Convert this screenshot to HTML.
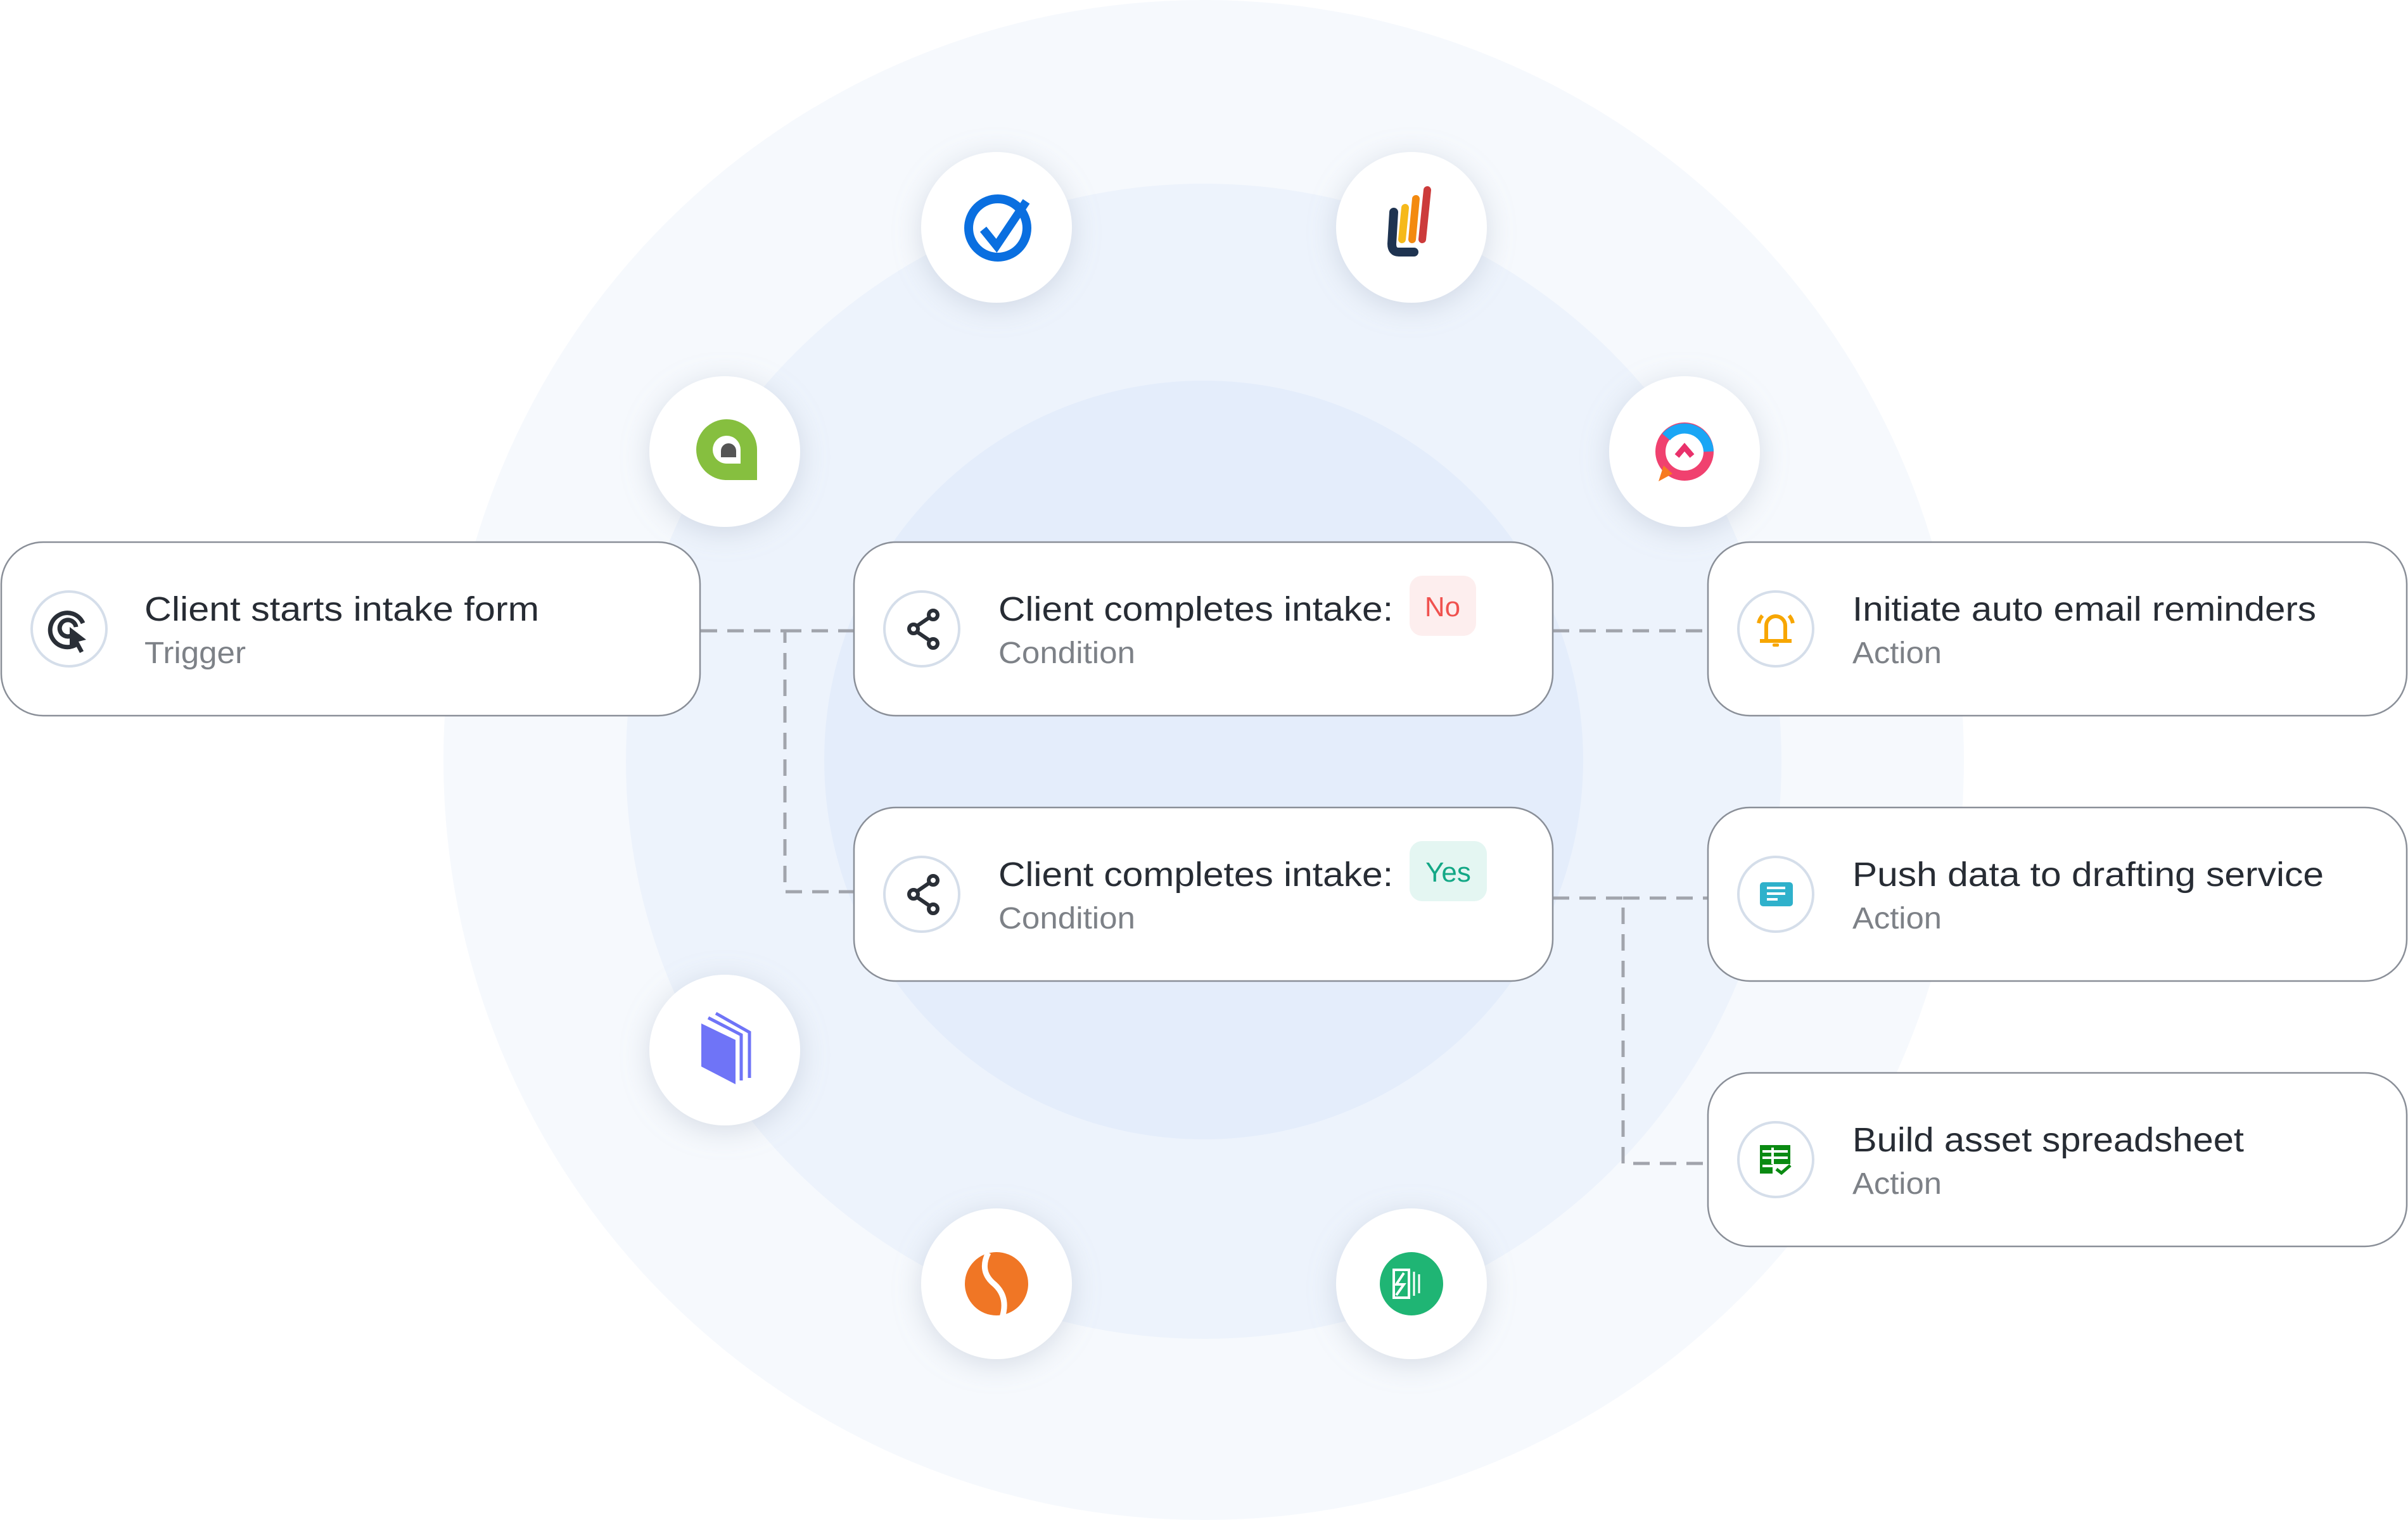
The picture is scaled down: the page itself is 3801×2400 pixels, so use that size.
<!DOCTYPE html>
<html><head><meta charset="utf-8"><style>
html,body{margin:0;padding:0;background:#fff;}
svg{display:block}
text{font-family:"Liberation Sans",sans-serif}
</style></head><body>
<svg width="3801" height="2400" viewBox="0 0 3801 2400" xmlns="http://www.w3.org/2000/svg">
<defs>
<filter id="sh" x="-50%" y="-50%" width="200%" height="200%"><feDropShadow dx="0" dy="8" stdDeviation="22" flood-color="#9aa6b8" flood-opacity="0.35"/></filter>
</defs>
<rect width="3801" height="2400" fill="#fff"/>
<circle cx="1900" cy="1200" r="1200" fill="#f6f9fd"/>
<circle cx="1900" cy="1202" r="912" fill="#edf3fc"/>
<circle cx="1900" cy="1200" r="599" fill="#e4edfb"/>

<g filter="url(#sh)" fill="#fff">
<circle cx="1573" cy="359" r="119"/><circle cx="2228" cy="359" r="119"/>
<circle cx="1144" cy="713" r="119"/><circle cx="2659" cy="713" r="119"/>
<circle cx="1144" cy="1658" r="119"/><circle cx="1573" cy="2027" r="119"/>
<circle cx="2228" cy="2027" r="119"/>
</g>
<circle cx="1575" cy="360" r="46" fill="none" stroke="#0a6fe0" stroke-width="14"/>
<path d="M1552 362 L1573 388 L1620 318" fill="none" stroke="#0a6fe0" stroke-width="13"/>
<path d="M2200 335 L2197 385 Q2197 398 2208 398 L2232 398" fill="none" stroke="#1e3350" stroke-width="14" stroke-linecap="round"/>
<line x1="2218" y1="328" x2="2213" y2="378" stroke="#f6b91a" stroke-width="12" stroke-linecap="round"/>
<line x1="2235" y1="314" x2="2229" y2="378" stroke="#f38a10" stroke-width="12" stroke-linecap="round"/>
<line x1="2253" y1="300" x2="2245" y2="378" stroke="#cc3b3b" stroke-width="12" stroke-linecap="round"/>
<path d="M1147 662 A48 48 0 1 0 1147 758 L1195 758 L1195 710 A48 48 0 0 0 1147 662Z" fill="#86bf3f"/>
<path d="M1147 688 A22 22 0 1 0 1147 732 L1169 732 L1169 710 A22 22 0 0 0 1147 688Z" fill="#fff"/>
<path d="M1150 700 A12 12 0 0 0 1138 712 L1138 722 L1162 722 L1162 712 A12 12 0 0 0 1150 700Z" fill="#555"/>
<circle cx="2659" cy="713" r="38" fill="none" stroke="#f0416f" stroke-width="16"/>
<path d="M2630 690 A38 38 0 0 1 2697 713" fill="none" stroke="#1aa6f5" stroke-width="16"/>
<path d="M2626 735 L2618 760 L2640 748Z" fill="#f77a20"/>
<path d="M2647 720 L2659 706 L2671 720" fill="none" stroke="#e9316b" stroke-width="9"/>
<path d="M1107 1616 L1161 1642 L1161 1712 L1107 1684Z" fill="#6f74f7"/>
<path d="M1118 1607 L1170 1634 L1170 1706" fill="none" stroke="#6f74f7" stroke-width="5"/>
<path d="M1130 1600 L1183 1630 L1183 1702" fill="none" stroke="#6f74f7" stroke-width="5"/>
<circle cx="1573" cy="2027" r="50" fill="#f07625"/>
<path d="M1560 1978 Q1545 2008 1570 2028 Q1592 2048 1582 2080" fill="none" stroke="#fff" stroke-width="9"/>
<circle cx="2228" cy="2027" r="50" fill="#1fb574"/>
<rect x="2200" y="2005" width="24" height="44" fill="none" stroke="#fff" stroke-width="4"/>
<path d="M2216 2010 L2204 2028 L2216 2028 L2204 2045" fill="none" stroke="#fff" stroke-width="4"/>
<line x1="2232" y1="2008" x2="2232" y2="2046" stroke="#fff" stroke-width="3"/>
<line x1="2240" y1="2012" x2="2240" y2="2042" stroke="#fff" stroke-width="3"/>

<g fill="none" stroke="#a1a4ac" stroke-width="5" stroke-dasharray="26 16">
<path d="M1106 996 L1239 996 L1239 1408 L1348 1408"/>
<path d="M1239 996 L1348 996"/>
<path d="M2451 996 L2696 996"/>
<path d="M2451 1418 L2562 1418 L2562 1837 L2696 1837"/>
<path d="M2562 1418 L2696 1418"/>
</g>

<g fill="#fff" stroke="#8a8f98" stroke-width="2.5">
<rect x="2" y="856" width="1103" height="274" rx="66"/>
<rect x="1348" y="856" width="1103" height="274" rx="66"/>
<rect x="1348" y="1275" width="1103" height="274" rx="66"/>
<rect x="2696" y="856" width="1103" height="274" rx="66"/>
<rect x="2696" y="1275" width="1103" height="274" rx="66"/>
<rect x="2696" y="1694" width="1103" height="274" rx="66"/>
</g>
<g fill="#fff" stroke="#d5deea" stroke-width="4">
<circle cx="109" cy="993" r="59"/>
<circle cx="1455" cy="993" r="59"/>
<circle cx="1455" cy="1412" r="59"/>
<circle cx="2803" cy="993" r="59"/>
<circle cx="2803" cy="1412" r="59"/>
<circle cx="2803" cy="1831" r="59"/>
</g>
<g fill="none" stroke="#2a2f37" stroke-width="7">
<path d="M124 1015 A27 27 0 1 1 131 984"/>
<path d="M112 1004 A13 13 0 1 1 120 990"/>
</g>
<path d="M110 990 L136 1010 L124 1013 L132 1028 L126 1031 L118 1016 L110 1024Z" fill="#2a2f37"/>
<g fill="none" stroke="#2a2f37" stroke-width="6">
<circle cx="1473" cy="971" r="7"/><circle cx="1442" cy="993" r="7"/><circle cx="1473" cy="1016" r="7"/>
<path d="M1448 988 L1467 975 M1448 998 L1467 1011"/>
<circle cx="1473" cy="1390" r="7"/><circle cx="1442" cy="1412" r="7"/><circle cx="1473" cy="1435" r="7"/>
<path d="M1448 1407 L1467 1394 M1448 1417 L1467 1430"/>
</g>
<g fill="none" stroke="#f7a600" stroke-width="6">
<path d="M2788 1012 L2788 988 A15 15 0 0 1 2818 988 L2818 1012"/>
<path d="M2778 1012 L2828 1012"/>
<path d="M2782 972 A25 25 0 0 0 2776 984 M2824 972 A25 25 0 0 1 2830 984"/>
</g>
<rect x="2798" y="1016" width="10" height="5" rx="2" fill="#f7a600"/>
<rect x="2778" y="1393" width="52" height="38" rx="5" fill="#2fb1cb"/>
<g stroke="#fff" stroke-width="4"><line x1="2789" y1="1402" x2="2818" y2="1402"/><line x1="2789" y1="1411" x2="2818" y2="1411"/><line x1="2789" y1="1420" x2="2806" y2="1420"/></g>
<g fill="#0a8a12"><rect x="2778" y="1808" width="48" height="30"/><rect x="2778" y="1838" width="20" height="15"/></g>
<g stroke="#fff" stroke-width="4"><line x1="2782" y1="1818" x2="2822" y2="1818"/><line x1="2782" y1="1828" x2="2822" y2="1828"/><line x1="2782" y1="1841" x2="2798" y2="1841"/><line x1="2798" y1="1812" x2="2798" y2="1838"/></g>
<path d="M2804 1846 L2812 1852 L2826 1840" fill="none" stroke="#0a8a12" stroke-width="5"/>

<rect x="2225" y="909" width="105" height="95" rx="20" fill="#fdeeee"/>
<text x="2277" y="973" font-size="44" fill="#f0524f" text-anchor="middle">No</text>
<rect x="2225" y="1328" width="122" height="95" rx="20" fill="#e4f6f2"/>
<text x="2286" y="1392" font-size="44" fill="#14a886" text-anchor="middle">Yes</text>

<g font-size="54" fill="#272c34">
<text x="228" y="980" textLength="623" lengthAdjust="spacingAndGlyphs">Client starts intake form</text>
<text x="1576" y="980" textLength="623" lengthAdjust="spacingAndGlyphs">Client completes intake:</text>
<text x="1576" y="1399" textLength="623" lengthAdjust="spacingAndGlyphs">Client completes intake:</text>
<text x="2924" y="980" textLength="732" lengthAdjust="spacingAndGlyphs">Initiate auto email reminders</text>
<text x="2924" y="1399" textLength="744" lengthAdjust="spacingAndGlyphs">Push data to drafting service</text>
<text x="2924" y="1818" textLength="618" lengthAdjust="spacingAndGlyphs">Build asset spreadsheet</text>
</g>
<g font-size="48" fill="#7d8187">
<text x="228" y="1047" textLength="160" lengthAdjust="spacingAndGlyphs">Trigger</text>
<text x="1576" y="1047" textLength="216" lengthAdjust="spacingAndGlyphs">Condition</text>
<text x="1576" y="1466" textLength="216" lengthAdjust="spacingAndGlyphs">Condition</text>
<text x="2924" y="1047" textLength="141" lengthAdjust="spacingAndGlyphs">Action</text>
<text x="2924" y="1466" textLength="141" lengthAdjust="spacingAndGlyphs">Action</text>
<text x="2924" y="1885" textLength="141" lengthAdjust="spacingAndGlyphs">Action</text>
</g>
</svg>
</body></html>
